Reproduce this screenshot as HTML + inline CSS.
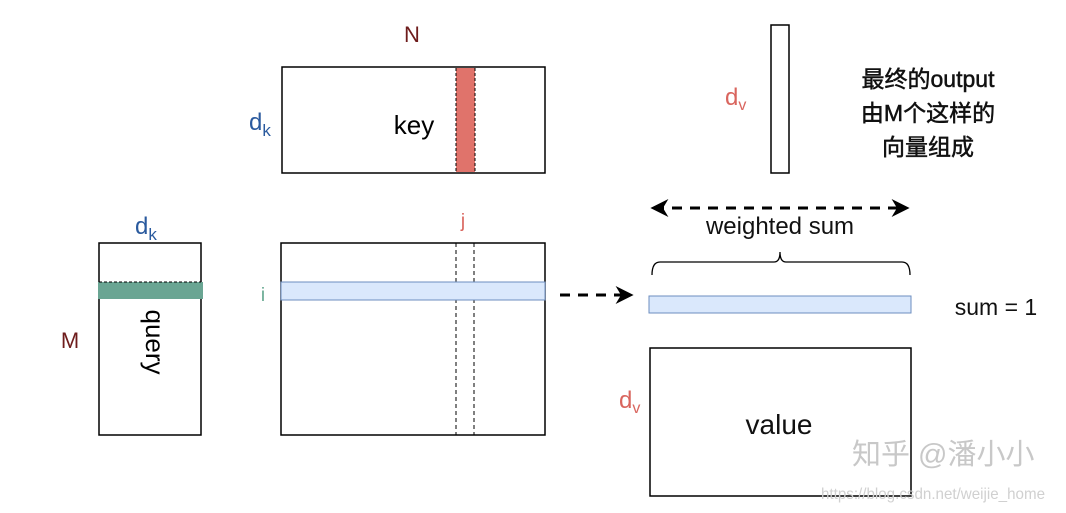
<!DOCTYPE html>
<html><head><meta charset="utf-8"><style>
html,body{margin:0;padding:0;background:#fff;width:1066px;height:513px;overflow:hidden}
svg{display:block}
text{font-family:"Liberation Sans","Noto Sans CJK SC",sans-serif}
</style></head><body>
<svg width="1066" height="513" viewBox="0 0 1066 513" xmlns="http://www.w3.org/2000/svg">
<defs>
<marker id="ah" viewBox="0 0 10 10" refX="8" refY="5" markerWidth="7" markerHeight="6" orient="auto-start-reverse" markerUnits="strokeWidth">
<path d="M0,0 L10,5 L0,10 L3,5 Z" fill="#000"/></marker>
</defs>
<!-- key -->
<text x="412" y="42" font-size="22" fill="#6e1c1c" text-anchor="middle">N</text>
<rect x="282" y="67" width="263" height="106" fill="#fff" stroke="#000" stroke-width="1.5"/>
<rect x="456" y="68" width="19" height="104" fill="#e0736b"/>
<line x1="456" y1="68" x2="456" y2="172" stroke="#000" stroke-dasharray="3,2"/>
<line x1="475" y1="68" x2="475" y2="172" stroke="#000" stroke-dasharray="3,2"/>
<text x="414" y="134" font-size="26" fill="#000" text-anchor="middle">key</text>
<text x="249" y="130" font-size="24" fill="#2a5a9e">d<tspan font-size="17" dy="6">k</tspan></text>

<!-- query -->
<text x="135" y="234" font-size="24" fill="#2a5a9e">d<tspan font-size="17" dy="6">k</tspan></text>
<rect x="99" y="243" width="102" height="192" fill="#fff" stroke="#000" stroke-width="1.5"/>
<rect x="98" y="282" width="105" height="17" fill="#6aa593"/>
<line x1="99" y1="282" x2="201" y2="282" stroke="#000" stroke-dasharray="3,2"/>
<text transform="translate(146,342) rotate(90)" font-size="26" fill="#000" text-anchor="middle">query</text>
<text x="70" y="348" font-size="22" fill="#6e1c1c" text-anchor="middle">M</text>

<!-- middle -->
<text x="463" y="227" font-size="19" fill="#d9655e" text-anchor="middle">j</text>
<rect x="281" y="243" width="264" height="192" fill="#fff" stroke="#000" stroke-width="1.5"/>
<line x1="456" y1="243" x2="456" y2="435" stroke="#000" stroke-dasharray="4,3"/>
<line x1="474" y1="243" x2="474" y2="435" stroke="#000" stroke-dasharray="4,3"/>
<line x1="456" y1="282" x2="474" y2="282" stroke="#000"/>
<rect x="281" y="282" width="264" height="18" fill="#dae8fc" stroke="#6c8ebf"/>
<line x1="281" y1="300" x2="545" y2="300" stroke="#6c8ebf" stroke-dasharray="4,3"/>
<text x="263" y="301" font-size="19" fill="#66a890" text-anchor="middle">i</text>

<!-- arrow -->
<line x1="560" y1="295" x2="630" y2="295" stroke="#000" stroke-width="3" stroke-dasharray="10,8" marker-end="url(#ah)"/>

<!-- output vector -->
<rect x="771" y="25" width="18" height="148" fill="#fff" stroke="#000" stroke-width="1.5"/>
<text x="725" y="105" font-size="24" fill="#d9655e">d<tspan font-size="16" dy="5">v</tspan></text>
<g fill="#111" stroke="#111" stroke-width="0.5" font-size="23" text-anchor="middle">
<text x="928" y="87">最终的output</text>
<text x="928" y="121">由M个这样的</text>
<text x="928" y="155">向量组成</text>
</g>

<!-- weighted sum -->
<line x1="654" y1="208" x2="906" y2="208" stroke="#000" stroke-width="3" stroke-dasharray="10,8" marker-start="url(#ah)" marker-end="url(#ah)"/>
<text x="780" y="234" font-size="24" fill="#111" text-anchor="middle">weighted sum</text>
<path d="M652,275 Q652,262 660,262 L774,262 Q780,262 780,252 Q780,262 786,262 L902,262 Q910,262 910,275" fill="none" stroke="#000" stroke-width="1.3"/>
<rect x="649" y="296" width="262" height="17" fill="#dae8fc" stroke="#6c8ebf"/>
<text x="996" y="315" font-size="23" fill="#111" text-anchor="middle">sum = 1</text>

<!-- value -->
<rect x="650" y="348" width="261" height="148" fill="#fff" stroke="#000" stroke-width="1.5"/>
<text x="779" y="434" font-size="28" fill="#111" text-anchor="middle">value</text>
<text x="619" y="408" font-size="24" fill="#d9655e">d<tspan font-size="16" dy="5">v</tspan></text>

<!-- watermarks -->
<text x="852" y="464" font-size="29" fill="#c8c8c8">知乎 @潘小小</text>
<text x="821" y="499" font-size="16" fill="#d0d0d0" textLength="224" lengthAdjust="spacingAndGlyphs">https://blog.csdn.net/weijie_home</text>
</svg>
</body></html>
